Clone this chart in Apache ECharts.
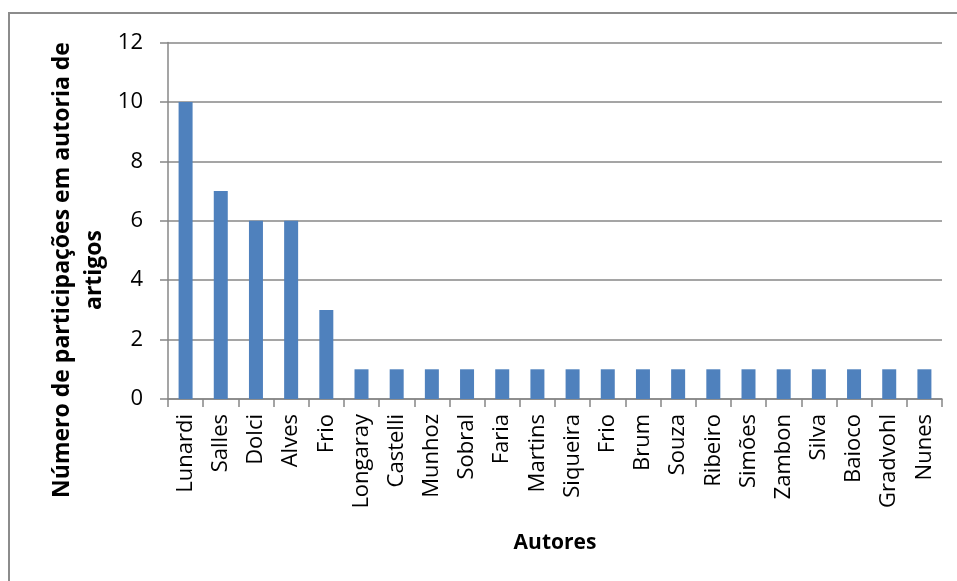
<!DOCTYPE html>
<html>
<head>
<meta charset="utf-8">
<script src="https://cdn.jsdelivr.net/npm/echarts@6/dist/echarts.min.js"></script>
<style>
  html, body { margin: 0; padding: 0; background: #fff; }
  #chart { width: 957px; height: 581px; }
</style>
</head>
<body>
<div id="chart"></div>
<script>
// Authors and how many articles each one co-authored
const autores = ['Lunardi', 'Salles', 'Dolci', 'Alves', 'Frio', 'Longaray', 'Castelli', 'Munhoz',
  'Sobral', 'Faria', 'Martins', 'Siqueira', 'Frio', 'Brum', 'Souza', 'Ribeiro', 'Simões',
  'Zambon', 'Silva', 'Baioco', 'Gradvohl', 'Nunes'];
const participacoes = [10, 7, 6, 6, 3, 1, 1, 1, 1, 1, 1, 1, 1, 1, 1, 1, 1, 1, 1, 1, 1, 1];
const yTicks = [0, 2, 4, 6, 8, 10, 12];
const tituloY = ['Número de participações em autoria de', 'artigos'];

const FONT = '"Open Sans", "DejaVu Sans", sans-serif';
const GRID_COLOR = '#878787';

// Vertical axis title: two rotated lines, reading bottom to top
const titleLines = tituloY.map((line, i) => ({
  type: 'text',
  x: 62 + i * 32,
  y: 270,
  rotation: Math.PI / 2,
  silent: true,
  style: {
    text: line,
    font: 'bold 23px ' + FONT,
    fill: '#000',
    textAlign: 'center',
    textVerticalAlign: 'middle'
  }
}));

const chart = echarts.init(document.getElementById('chart'));
chart.setOption({
  animation: false,
  graphic: [{
    type: 'rect',
    shape: { x: 9, y: 13, width: 1000, height: 1000 },
    style: { fill: 'none', stroke: '#8c8c8c', lineWidth: 2 },
    silent: true
  }].concat(titleLines),
  grid: { left: 168, right: 15, top: 42.5, bottom: 182, containLabel: false, outerBoundsMode: 'none' },
  xAxis: {
    type: 'category',
    data: autores.map((a, i) => ({ value: i, label: a })),
    axisLine: { lineStyle: { color: GRID_COLOR, width: 1.5 } },
    axisTick: { show: true, length: 8, lineStyle: { color: GRID_COLOR, width: 1.5 } },
    axisLabel: {
      rotate: 90,
      margin: 15,
      color: '#000',
      fontFamily: FONT,
      fontSize: 22,
      interval: 0,
      formatter: (v, i) => autores[i]
    },
    name: 'Autores',
    nameLocation: 'middle',
    nameGap: 134,
    nameTextStyle: { fontFamily: FONT, fontWeight: 'bold', fontSize: 21, color: '#000' }
  },
  yAxis: {
    type: 'value',
    min: yTicks[0],
    max: yTicks[yTicks.length - 1],
    interval: 2,
    axisLine: { show: true, lineStyle: { color: GRID_COLOR, width: 1.5 } },
    axisTick: { show: true, length: 8, lineStyle: { color: GRID_COLOR, width: 1.5 } },
    splitLine: { lineStyle: { color: GRID_COLOR, width: 1.5 } },
    axisLabel: {
      margin: 25,
      color: '#000',
      fontFamily: FONT,
      fontSize: 22
    }
  },
  series: [{
    type: 'bar',
    data: participacoes,
    barWidth: 14,
    itemStyle: { color: '#4F81BD' }
  }]
});
</script>
</body>
</html>
